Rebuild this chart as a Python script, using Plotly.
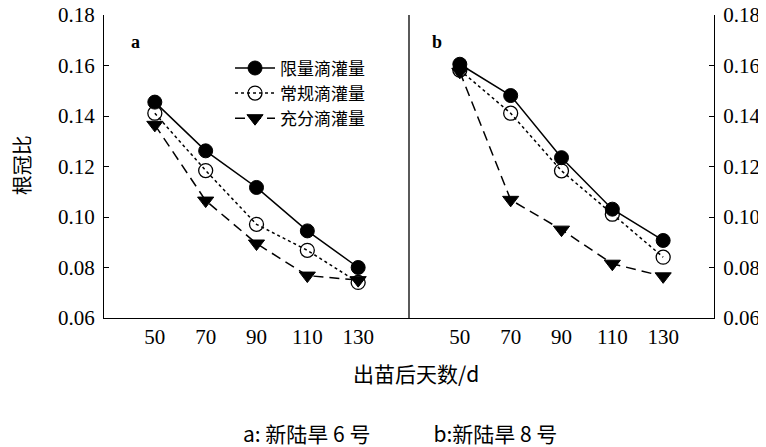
import plotly.graph_objects as go
from plotly.subplots import make_subplots

days = [50, 70, 90, 110, 130]
series_names = ["限量滴灌量", "常规滴灌量", "充分滴灌量"]

# panel a: 新陆旱6号
a_limited = [0.1455, 0.1262, 0.1117, 0.0945, 0.0800]
a_normal = [0.1411, 0.1184, 0.0971, 0.0868, 0.0741]
a_full = [0.1365, 0.1065, 0.0895, 0.0768, 0.0750]

# panel b: 新陆旱8号
b_limited = [0.1605, 0.1481, 0.1235, 0.1031, 0.0907]
b_normal = [0.1582, 0.1411, 0.1183, 0.1011, 0.0841]
b_full = [0.1575, 0.1068, 0.0950, 0.0815, 0.0765]

y_ticks = [0.06, 0.08, 0.10, 0.12, 0.14, 0.16, 0.18]

SERIF = "Liberation Serif"
CJK = "Noto Sans CJK SC"

styles = [
    dict(line=dict(color="black", width=1.5, dash="solid"),
         marker=dict(symbol="circle", size=14, color="black", line=dict(color="black", width=1))),
    dict(line=dict(color="black", width=1.5, dash="dot"),
         marker=dict(symbol="circle-open", size=14, color="black", line=dict(color="black", width=1.3))),
    dict(line=dict(color="black", width=1.5, dash="10px,6px"),
         marker=dict(symbol="triangle-down", size=14, color="black", line=dict(color="black", width=1))),
]

fig = make_subplots(rows=1, cols=2, horizontal_spacing=0, shared_yaxes=False)

for i, (name, ys) in enumerate(zip(series_names, [a_limited, a_normal, a_full])):
    fig.add_trace(go.Scatter(x=days, y=ys, mode="lines+markers", name=name,
                             showlegend=True, **styles[i]), row=1, col=1)
for i, (name, ys) in enumerate(zip(series_names, [b_limited, b_normal, b_full])):
    fig.add_trace(go.Scatter(x=days, y=ys, mode="lines+markers", name=name,
                             showlegend=False, **styles[i]), row=1, col=2)

xax = dict(range=[30, 150], tickvals=days, showline=True, linecolor="black", linewidth=1.3,
           ticks="", showgrid=False, zeroline=False, automargin=False,
           ticklabeloverflow="allow",
           tickfont=dict(family=SERIF, size=21, color="black"))
fig.update_xaxes(**xax)

yax = dict(range=[0.06, 0.18], tickvals=y_ticks, tickformat=".2f", showline=True,
           linecolor="black", linewidth=1.3, ticks="inside", ticklen=5, tickcolor="black",
           showgrid=False, zeroline=False, automargin=False, ticklabeloverflow="allow",
           ticklabelstandoff=4,
           tickfont=dict(family=SERIF, size=21, color="black"))
fig.update_yaxes(**yax)
fig.update_yaxes(side="right", row=1, col=2)

# page body has an 8px margin: figure is sized/offset to land plot area at 104..714 x 15..318
fig.update_layout(
    width=758, height=439,
    margin=dict(l=96, r=52, t=7, b=129, autoexpand=False),
    font=dict(family=SERIF, color="black"),
    plot_bgcolor="white", paper_bgcolor="white",
    legend=dict(x=0.2066, y=0.883, xanchor="left", yanchor="top",
                font=dict(family=CJK, size=17, color="black"),
                bgcolor="rgba(0,0,0,0)", tracegroupgap=0, itemwidth=40),
    shapes=[dict(type="line", xref="paper", yref="paper", x0=0.5, x1=0.5, y0=0, y1=1,
                 line=dict(color="black", width=1.3))],
    annotations=[
        dict(text="<b>a</b>", x=0.051, y=0.911, xref="paper", yref="paper", showarrow=False,
             xanchor="center", yanchor="middle",
             font=dict(family=SERIF, size=18, color="black")),
        dict(text="<b>b</b>", x=0.546, y=0.911, xref="paper", yref="paper", showarrow=False,
             xanchor="center", yanchor="middle",
             font=dict(family=SERIF, size=18, color="black")),
        dict(text="根冠比", x=-0.134, y=0.505, xref="paper", yref="paper", showarrow=False,
             xanchor="center", yanchor="middle",
             textangle=-90, font=dict(family=CJK, size=20, color="black")),
        dict(text="出苗后天数/d", x=0.511, y=-0.182, xref="paper", yref="paper", showarrow=False,
             xanchor="center", yanchor="middle",
             font=dict(family=CJK, size=21, color="black")),
        dict(text="a: 新陆旱 6 号　　　b:新陆旱 8 号", x=0.485, y=-0.38, xref="paper", yref="paper",
             xanchor="center", yanchor="middle",
             showarrow=False, font=dict(family=CJK, size=21, color="black")),
    ],
)

fig.write_html("out.html")
